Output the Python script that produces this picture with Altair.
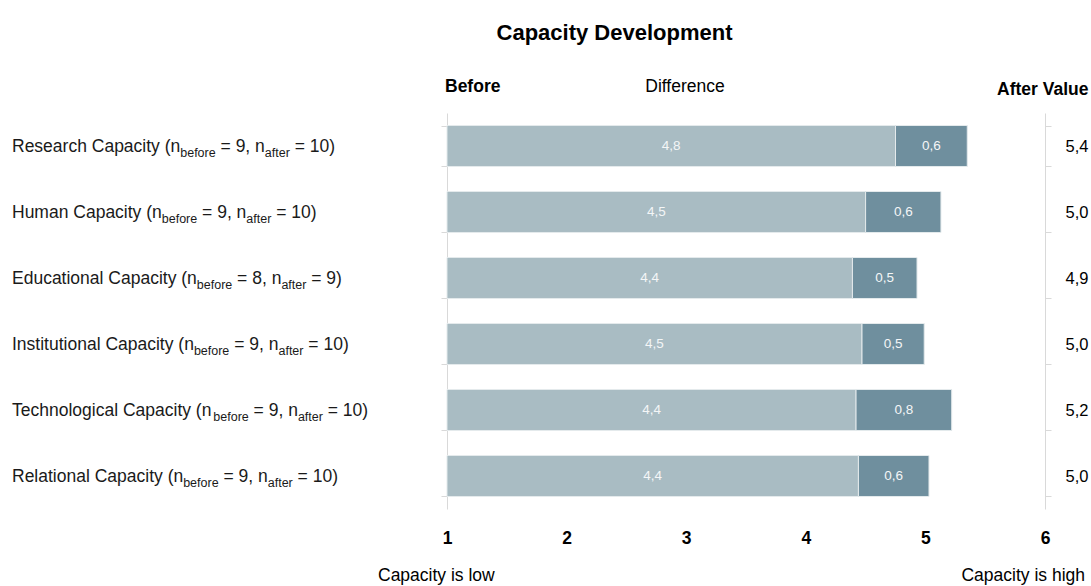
import altair as alt
import pandas as pd

# ---------------- data ----------------
categories = [
    "Research Capacity",
    "Human Capacity",
    "Educational Capacity",
    "Institutional Capacity",
    "Technological Capacity",
    "Relational Capacity",
]
n_before = [9, 9, 8, 9, 9, 9]
n_after = [10, 10, 9, 10, 10, 10]
before_vals = [4.75, 4.50, 4.39, 4.47, 4.42, 4.44]
diff_vals = [0.60, 0.63, 0.54, 0.52, 0.80, 0.59]
after_vals = [5.4, 5.0, 4.9, 5.0, 5.2, 5.0]
x_ticks = [1, 2, 3, 4, 5, 6]

LIGHT = "#a9bcc3"
DARK = "#6f8f9e"
AXIS_GREY = "#d9d9d9"
FONT = "Liberation Sans"

PLOT_W, PLOT_H = 598, 396
PAD = {"left": 447, "top": 113, "right": 46, "bottom": 77}

# Arial / Liberation Sans advance widths (1/1000 em)
ARIAL = {
    " ": 278, "(": 333, ")": 333, ",": 278, ".": 278, "=": 584,
    "A": 667, "B": 667, "C": 722, "D": 722, "E": 667, "F": 611, "G": 778,
    "H": 722, "I": 278, "J": 500, "K": 667, "L": 556, "M": 833, "N": 722,
    "O": 778, "P": 667, "Q": 778, "R": 722, "S": 667, "T": 611, "U": 722,
    "V": 667, "W": 944, "X": 667, "Y": 667, "Z": 611,
    "a": 556, "b": 556, "c": 500, "d": 556, "e": 556, "f": 278, "g": 556,
    "h": 556, "i": 222, "j": 222, "k": 500, "l": 222, "m": 833, "n": 556,
    "o": 556, "p": 556, "q": 556, "r": 333, "s": 500, "t": 278, "u": 556,
    "v": 500, "w": 722, "x": 500, "y": 500, "z": 500,
}
for d in "0123456789":
    ARIAL[d] = 556


def tw(s, size):
    return sum(ARIAL.get(ch, 556) for ch in s) / 1000.0 * size


MAIN_SIZE = 17.5
SUB_SIZE = 12.5
LABEL_LEFT = 12 - PAD["left"]

# ---------------- tables ----------------
bar_rows = []
for c, b, d in zip(categories, before_vals, diff_vals):
    bar_rows.append({"cat": c, "seg": "before", "start": 1.0, "end": b, "val": b})
    bar_rows.append({"cat": c, "seg": "diff", "start": b, "end": b + d, "val": d})
bars_df = pd.DataFrame(bar_rows)

seg_rows = []
for c, nb, na in zip(categories, n_before, n_after):
    parts = [
        (f"{c} (n", False),
        ("before", True),
        (f" = {nb}, n", False),
        ("after", True),
        (f" = {na})", False),
    ]
    cursor = 0.0
    for txt, is_sub in parts:
        size = SUB_SIZE if is_sub else MAIN_SIZE
        lead = len(txt) - len(txt.lstrip(" "))
        x = cursor + tw(" " * lead, size)
        seg_rows.append({"cat": c, "txt": txt.strip(" "), "px": LABEL_LEFT + x, "sub": is_sub})
        cursor += tw(txt, size)
segs_df = pd.DataFrame(seg_rows)

after_map = " : ".join(
    [f"datum.value == '{c}' ? '{('%.1f' % v).replace('.', ',')}'" for c, v in zip(categories, after_vals)]
) + " : ''"

y_scale = alt.Scale(paddingInner=0.379, paddingOuter=0.1895)
x_scale = alt.Scale(domain=[1, 6], nice=False, zero=False)

# ---------------- layers ----------------
bars = alt.Chart(bars_df).mark_bar(stroke="#e4eaec", strokeWidth=1).encode(
    x=alt.X(
        "start:Q",
        scale=x_scale,
        axis=alt.Axis(
            values=x_ticks, format="d", domain=False, ticks=False, tickSize=0,
            grid=False, labelFontWeight="bold", labelFontSize=17.5,
            labelColor="black", labelPadding=20, title=None, labelFont=FONT,
            labelFlush=False,
        ),
    ),
    x2="end:Q",
    y=alt.Y(
        "cat:N", sort=categories, scale=y_scale,
        axis=alt.Axis(
            orient="left", labels=False, title=None, domainColor=AXIS_GREY,
            tickColor=AXIS_GREY, tickSize=6, tickBand="extent", grid=False,
        ),
    ),
    color=alt.Color("seg:N", scale=alt.Scale(domain=["before", "diff"], range=[LIGHT, DARK]), legend=None),
)

bar_text = alt.Chart(bars_df).transform_calculate(
    mid="(datum.start + datum.end) / 2",
    lab="replace(format(datum.val, '.1f'), '.', ',')",
).mark_text(color="#f4f6f7", fontSize=13.5, font=FONT, baseline="middle", align="center").encode(
    x=alt.X("mid:Q", scale=x_scale, axis=None),
    y=alt.Y(
        "cat:N", sort=categories, scale=y_scale,
        axis=alt.Axis(
            orient="right", title=None, domainColor=AXIS_GREY, tickColor=AXIS_GREY,
            tickSize=6, tickBand="extent", grid=False, labelExpr=after_map,
            labelFontSize=16.5, labelColor="black", labelPadding=14,
            labelAlign="left", labelFont=FONT,
        ),
    ),
    text="lab:N",
)

main_lab = alt.Chart(segs_df).transform_filter("!datum.sub").mark_text(
    fontSize=MAIN_SIZE, font=FONT, align="left", baseline="alphabetic", dy=6, color="#1a1a1a"
).encode(
    x=alt.X("px:Q", scale=None, axis=None),
    y=alt.Y("cat:N", sort=categories, scale=y_scale, axis=None),
    text="txt:N",
)

sub_lab = alt.Chart(segs_df).transform_filter("datum.sub").mark_text(
    fontSize=SUB_SIZE, font=FONT, align="left", baseline="alphabetic", dy=11, color="#1a1a1a"
).encode(
    x=alt.X("px:Q", scale=None, axis=None),
    y=alt.Y("cat:N", sort=categories, scale=y_scale, axis=None),
    text="txt:N",
)

one = pd.DataFrame({"k": [0]})


def note(text, x, y, size, weight="normal", align="left"):
    return alt.Chart(one).mark_text(
        text=text, fontSize=size, fontWeight=weight, font=FONT, align=align,
        baseline="alphabetic", color="black",
    ).encode(x=alt.value(x), y=alt.value(y))


title = note("Capacity Development", 614.5 - PAD["left"], 40 - PAD["top"], 22, "bold", "center")
h_before = note("Before", 445 - PAD["left"], 92 - PAD["top"], 17.5, "bold", "left")
h_diff = note("Difference", 685 - PAD["left"], 92 - PAD["top"], 17.5, "normal", "center")
h_after = note("After Value", 997 - PAD["left"], 95 - PAD["top"], 17.5, "bold", "left")
low = note("Capacity is low", 378 - PAD["left"], 581 - PAD["top"], 17.5, "normal", "left")
high = note("Capacity is high", 1085 - PAD["left"], 581 - PAD["top"], 17.5, "normal", "right")

chart = alt.layer(
    bars, bar_text, main_lab, sub_lab, title, h_before, h_diff, h_after, low, high
).resolve_axis(y="independent", x="independent").properties(
    width=PLOT_W, height=PLOT_H, padding=PAD,
    autosize=alt.AutoSizeParams(type="none"),
).configure(font=FONT).configure_view(stroke=None)

chart.save("out.html", embed_options={"renderer": "svg", "actions": False})
